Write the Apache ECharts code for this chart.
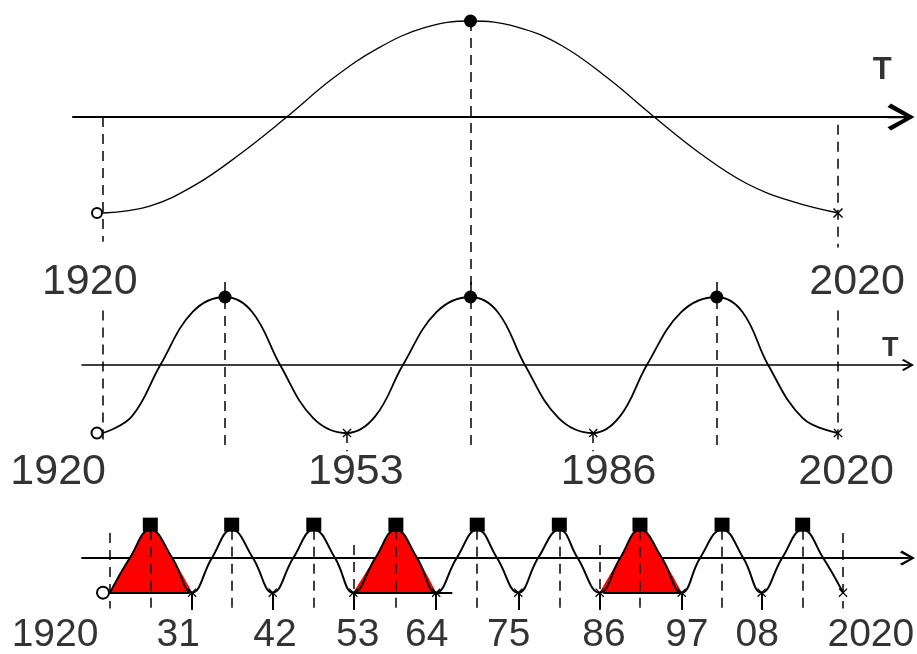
<!DOCTYPE html>
<html>
<head>
<meta charset="utf-8">
<script src="https://cdn.jsdelivr.net/npm/echarts@6/dist/echarts.min.js"></script>
<style>
  html, body { margin: 0; padding: 0; background: #fff; }
  #chart { width: 917px; height: 654px; }
</style>
</head>
<body>
<div id="chart"></div>
<script>
// top: 100-year cycle
var slowYears  = [1920, 1926.25, 1932.5, 1938.75, 1945, 1951.25, 1957.5, 1963.75, 1970,
                  1976.25, 1982.5, 1988.75, 1995, 2001.25, 2007.5, 2013.75, 2020];
var slowValues = [-1, -0.93, -0.71, -0.38, 0, 0.4, 0.72, 0.93, 1,
                  0.94, 0.74, 0.4, 0, -0.38, -0.69, -0.88, -1];

// middle: 33-year cycle
var midYears  = [1920, 1923.9, 1927.8, 1932.2, 1936.6, 1940.3, 1944.1, 1948.6, 1953.2,
                 1957, 1960.8, 1965.4, 1970, 1973.7, 1977.4, 1982, 1986.7,
                 1990.3, 1994, 1998.7, 2003.5, 2007, 2010.5, 2015.2, 2020];
var midValues = [-1, -0.76, 0, 0.78, 1, 0.78, 0, -0.78, -1,
                 -0.76, 0, 0.78, 1, 0.78, 0, -0.78, -1,
                 -0.76, 0, 0.78, 1, 0.78, 0, -0.78, -1];

// bottom: 11-year cycle
var fastYears  = [1920, 1922.7, 1925.5, 1928.5, 1931.2, 1933.9, 1936.6, 1939.5, 1942.2, 1945, 1947.8, 1950.7,
                  1953.2, 1956.2, 1959, 1961.9, 1964.5, 1967.3, 1970.1, 1972.8, 1975.7, 1978.4, 1981.3, 1983.8,
                  1986.8, 1989.6, 1992.3, 1995.3, 1998, 2000.5, 2003.5, 2006.4, 2008.9, 2011.7, 2014.5, 2017.3, 2020];
var fastValues = [-1.1, 0, 0.9, 0, -1.1, 0, 0.9, 0, -1.1, 0, 0.9, 0,
                  -1.1, 0, 0.9, 0, -1.1, 0, 0.9, 0, -1.1, 0, 0.9, 0,
                  -1.1, 0, 0.9, 0, -1.1, 0, 0.9, 0, -1.1, 0, 0.9, 0, -1.1];

// red filled cycles and the base line under them
var redCycles = [[1920, 1931.2], [1953.2, 1964.5], [1986.8, 1998]];
var redBase   = [[1920, 1930.9], [1953.2, 1966.7], [1987.3, 1998.2]];

// dashed guides: [year, from, to]
var slowGuides = [[1920, 0, -1.3], [1970, 1, -1.75], [2020, -0.08, -1.36]];
var midGuides  = [[1920, 0.8, -1.1], [1936.6, 1.22, -1.27], [1970, 1.22, -1.27], [2003.5, 1.22, -1.27],
                  [2020, 0.8, -1.15], [1953.2, -1, -1.27], [1986.7, -1, -1.27]];
var fastGuides = [[1920, 0.79, -1.6], [1953.2, 0.41, -1.1], [1986.8, 0.41, -1.1], [2020, 0.79, -1.6]];

// labels
var topLabels     = ['1920', '2020'];
var topLabelYears = [1918.2, 2022.6];
var midLabels     = ['1920', '1953', '1986', '2020'];
var midLabelYears = [1913.9, 1954.4, 1988.8, 2021.1];
var fastLabels     = ['1920', '31', '42', '53', '64', '75', '86', '97', '08', '2020'];
var fastLabelYears = [1912.5, 1929.3, 1942.5, 1953.8, 1963.2, 1974.4, 1987.4, 1998.7, 2008.3, 2023.8];

var FONT = '"Liberation Sans", Arial, sans-serif';
var crossPath = 'path://M0,1 L1,0 L5,4 L9,0 L10,1 L6,5 L10,9 L9,10 L5,6 L1,10 L0,9 L4,5 Z';
var arrowPath = 'path://M12,0 L24,21 L21,24 L13,9 L13,24 L11,24 L11,9 L3,24 L0,21 Z';

// pixel frame of each panel
var frames = [
  {left: 73, end: 901,   x1920: 103, x2020: 838, y0: 117, unit: 96,   yMin: -1.8, yMax: 1.1, axisWidth: 2,   arrow: [27, 28]},
  {left: 82, end: 908,   x1920: 103, x2020: 838, y0: 365, unit: 68,   yMin: -1.8, yMax: 1.3, axisWidth: 1.5, arrow: [26, 12]},
  {left: 82, end: 907.5, x1920: 110, x2020: 843, y0: 558, unit: 31.5, yMin: -2.7, yMax: 1.3, axisWidth: 2,   arrow: [25, 15]}
];

var grids = [], xAxes = [], yAxes = [];
frames.forEach(function (f, i) {
  var perYear = (f.x2020 - f.x1920) / 100;
  grids.push({left: f.left, width: f.end - f.left, top: f.y0 - f.yMax * f.unit, height: (f.yMax - f.yMin) * f.unit});
  xAxes.push({
    type: 'value', gridIndex: i,
    min: 1920 - (f.x1920 - f.left) / perYear,
    max: 1920 + (f.end - f.x1920) / perYear,
    axisLine: {onZero: true, lineStyle: {color: '#000', width: f.axisWidth}, symbol: ['none', arrowPath], symbolSize: f.arrow},
    axisTick: {show: false}, axisLabel: {show: false}, splitLine: {show: false}
  });
  yAxes.push({type: 'value', gridIndex: i, min: f.yMin, max: f.yMax, show: false});
});

function pairs(xs, ys) { return xs.map(function (x, k) { return [x, ys[k]]; }); }
function guideData(list, style) {
  return list.map(function (g) {
    var a = {coord: [g[0], g[1]]};
    if (style) a.lineStyle = style;
    return [a, {coord: [g[0], g[2]]}];
  });
}
function pick(xs, ys, v) {
  var out = [];
  xs.forEach(function (x, k) { if (ys[k] === v) out.push([x, ys[k]]); });
  return out;
}

function curve(i, xs, ys, width, guides, smooth) {
  return {
    type: 'line', xAxisIndex: i, yAxisIndex: i, data: pairs(xs, ys), smooth: smooth,
    showSymbol: false, clip: false, z: 3, silent: true,
    lineStyle: {color: '#000', width: width},
    markLine: {
      silent: true, symbol: ['none', 'none'], label: {show: false},
      lineStyle: {color: '#000', width: 1.5, type: [10, 7]},
      data: guides
    }
  };
}
function markers(i, pts, symbol, size, offset, hollow) {
  return {
    type: 'scatter', xAxisIndex: i, yAxisIndex: i, data: pts, clip: false, z: 5, silent: true,
    symbol: symbol, symbolSize: size, symbolOffset: offset || [0, 0],
    itemStyle: hollow ? {color: '#000', borderColor: '#000', borderWidth: 1.5, opacity: 1} : {color: '#000', opacity: 1}
  };
}
function labels(i, names, xs, y, size, bold) {
  return {
    type: 'scatter', xAxisIndex: i, yAxisIndex: i, clip: false, z: 6, silent: true,
    symbol: 'circle', symbolSize: 1, itemStyle: {color: 'rgba(0,0,0,0)'},
    data: names.map(function (n, k) { return {name: n, value: [xs[k], y]}; }),
    label: {show: true, position: 'inside', formatter: '{b}', color: '#000',
            fontFamily: FONT, fontSize: size, fontWeight: bold ? 'bold' : 'normal'}
  };
}

var fastPeaks = pick(fastYears, fastValues, 0.9);
var fastTroughs = pick(fastYears, fastValues, -1.1);
var fastInner = fastTroughs.slice(1, -1);
var baseLines = redBase.map(function (b) {
  return [{coord: [b[0], -1.1], lineStyle: {type: 'solid', width: 2}}, {coord: [b[1], -1.1]}];
});

var series = [];

// panel 1
series.push(curve(0, slowYears, slowValues, 1.3, guideData(slowGuides), 0.4));
series.push(markers(0, [[1920, -1]], 'emptyCircle', 10, [-6, 0], true));
series.push(markers(0, pick(slowYears, slowValues, 1), 'circle', 13));
series.push(markers(0, [[2020, -1]], crossPath, 10));
series.push(labels(0, topLabels, topLabelYears, -1.72, 43));
series.push(labels(0, ['T'], [2026], 0.48, 31, true));

// panel 2
series.push(curve(1, midYears, midValues, 1.8, guideData(midGuides), 0.4));
series.push(markers(1, [[1920, -1]], 'emptyCircle', 11, [-6, 0], true));
series.push(markers(1, pick(midYears, midValues, 1), 'circle', 13));
series.push(markers(1, pick(midYears, midValues, -1).slice(1), crossPath, 9));
series.push(labels(1, midLabels, midLabelYears, -1.57, 43));
series.push(labels(1, ['T'], [2027.1], 0.24, 27, true));

// panel 3 red areas
redCycles.forEach(function (c) {
  var pts = [];
  fastYears.forEach(function (x, k) { if (x >= c[0] && x <= c[1]) pts.push([x, fastValues[k]]); });
  series.push({
    type: 'line', xAxisIndex: 2, yAxisIndex: 2, data: pts, smooth: 0.45, showSymbol: false, silent: true, z: 2,
    lineStyle: {width: 0}, areaStyle: {color: '#ff0000', opacity: 1, origin: -1.1}
  });
});
series.push(curve(2, fastYears, fastValues, 2, guideData(fastGuides)
  .concat(guideData(fastPeaks.map(function (p) { return [p[0], 0.9, -1.6]; })))
  .concat(guideData(fastInner.map(function (p) { return [p[0], -1.1, -1.65]; }), {type: 'solid', width: 2}))
  .concat(baseLines), 0.45));
series.push(markers(2, [[1920, -1.1]], 'emptyCircle', 12, [-7, 0], true));
series.push(markers(2, fastPeaks, 'rect', [15, 14], [0, -5]));
series.push(markers(2, fastTroughs.slice(1), crossPath, 9));
series.push(labels(2, fastLabels, fastLabelYears, -2.44, 39));

var chart = echarts.init(document.getElementById('chart'));
chart.setOption({
  animation: false,
  backgroundColor: '#fff',
  grid: grids,
  xAxis: xAxes,
  yAxis: yAxes,
  series: series
});
</script>
</body>
</html>
